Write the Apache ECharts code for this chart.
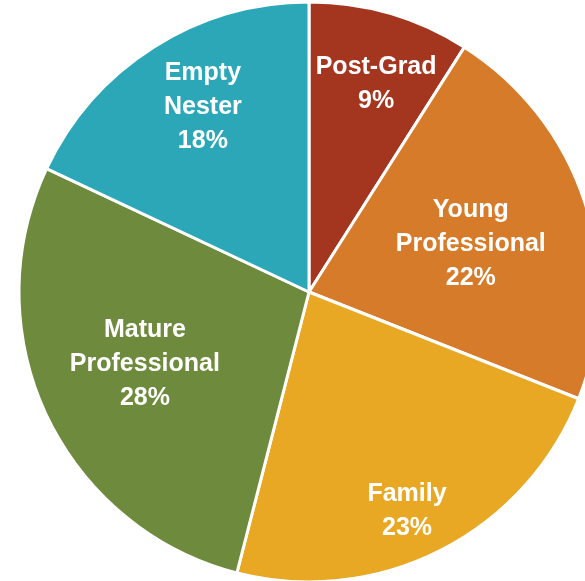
<!DOCTYPE html>
<html>
<head>
<meta charset="utf-8">
<style>
  html, body { margin: 0; padding: 0; background: #ffffff; }
  #chart { width: 585px; height: 581px; }
</style>
<script src="https://cdn.jsdelivr.net/npm/echarts@6/dist/echarts.min.js"></script>
</head>
<body>
<div id="chart"></div>
<script>
// Segment shares (percent), clockwise from 12 o'clock
const segments = ['Post-Grad', 'Young\nProfessional', 'Family', 'Mature\nProfessional', 'Empty\nNester'];
const shares = [9, 22, 23, 28, 18];
const colors = ['#A4361F', '#D67B2A', '#E8A823', '#6E8B3D', '#2BA7B8'];

// Label placement along each slice: distance as a fraction of the radius,
// plus a small angular nudge (degrees, clockwise) off the bisector
const labelRadiusFrac = [0.753, 0.582, 0.828, 0.618, 0.734];
const labelAngleNudge = [1.7, 1.4, 2.9, 1.5, 2.5];

const CX = 309, CY = 292, R = 290;

const total = shares.reduce((a, b) => a + b, 0);
const midAngles = [];
let acc = 0;
shares.forEach(v => {
  midAngles.push(((acc + v / 2) / total) * 2 * Math.PI);
  acc += v;
});

const chart = echarts.init(document.getElementById('chart'), null, { renderer: 'canvas' });
chart.setOption({
  animation: false,
  backgroundColor: '#ffffff',
  series: [{
    type: 'pie',
    center: [CX, CY],
    radius: [0, R],
    startAngle: 90,
    clockwise: true,
    itemStyle: { borderColor: '#ffffff', borderWidth: 3 },
    label: {
      show: true,
      position: 'inside',
      color: '#ffffff',
      fontFamily: '"Liberation Sans", Arial, sans-serif',
      fontWeight: 'bold',
      fontSize: 25,
      lineHeight: 34,
      align: 'center',
      formatter: p => p.name + '\n' + p.value + '%'
    },
    labelLine: { show: false },
    labelLayout: p => {
      const i = p.dataIndex;
      const a = midAngles[i] + labelAngleNudge[i] * Math.PI / 180;
      const r = R * labelRadiusFrac[i];
      return { x: CX + r * Math.sin(a), y: CY - r * Math.cos(a), align: 'center', verticalAlign: 'middle' };
    },
    emphasis: { disabled: true },
    data: segments.map((name, i) => ({ name, value: shares[i], itemStyle: { color: colors[i] } }))
  }]
});
</script>
</body>
</html>
